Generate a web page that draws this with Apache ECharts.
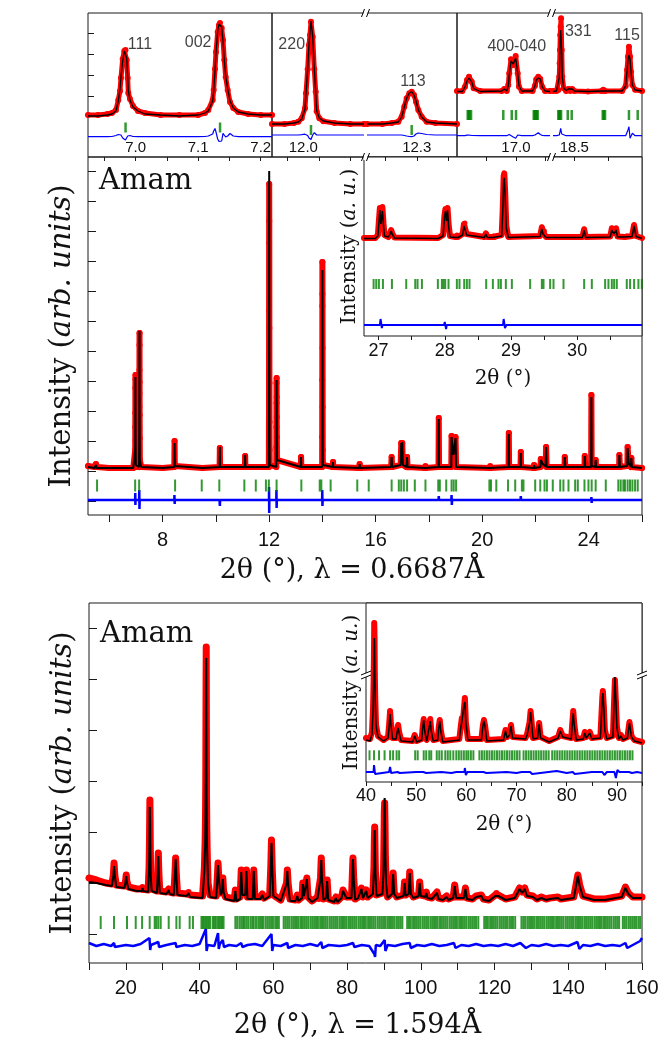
<!DOCTYPE html>
<html><head><meta charset="utf-8"><title>Rietveld plots</title>
<script src="https://cdn.jsdelivr.net/npm/echarts@6.0.0/dist/echarts.min.js"></script>
<style>html,body{margin:0;padding:0;background:#fff;}#chart{width:663px;height:1042px;}</style>
</head><body><div id="chart"></div>
<script>
// ================= DATA =================
// Strip panel A: rows [2θ, Iobs, Icalc, Idiff]
const stripA = [[6.924,42,41,20.3],[6.94,42,41,20.3],[6.955,43,42,20.3],[6.9623,44,43,20.5],[6.9687,47,46,21.5],[6.9724,57,56,22.5],[6.9751,66,68,23.5],[6.9767,79,80,22],[6.9794,98,96,19],[6.982,106,106,17.5],[6.9839,107,108,17],[6.9858,97,99,18.5],[6.9874,79,80,21],[6.9884,64,66,22.5],[6.9911,58,57,21.5],[6.9959,51,50,20.5],[7.0039,46,46,20.3],[7.0151,44,43,20.3],[7.04,42,42,20.3],[7.07,42,41,20.3],[7.1,42,42,20.3],[7.1109,44,44,20.5],[7.1162,47,46,21],[7.1232,57,56,23],[7.1248,67,66,26],[7.1269,88,86,28.5],[7.1285,105,104,25],[7.1312,125,126,18],[7.1333,132,133,15.5],[7.1349,134,135,14],[7.1376,129,130,16],[7.1397,117,116,23.7],[7.1418,97,97,22],[7.144,80,81,20],[7.1472,67,68,21],[7.1509,55,56,23.5],[7.1561,49,49,21],[7.1641,45,45,20.3],[7.18,43,43,20.3],[7.2,42,42,20.3],[7.218,42,42,20.3]];
const stripARefl = [6.984, 7.135];
const stripAHkl = [[7.007,112,'111'],[7.100,114,'002']];
// Strip panel B (broken axis)
const stripB1 = [[11.95,33,33,22],[11.97,33,33,22],[11.985,34,34,22],[11.992,35.3,35,22],[11.9975,38.7,38,22.3],[12.0027,48.7,48,22.8],[12.0043,63.7,63,22.5],[12.007,87.7,88,21.5],[12.0091,112,113,19],[12.0107,122,124,17.5],[12.0123,135.3,136,17.5],[12.015,120.3,121,22],[12.0176,87.7,88,24.3],[12.0198,65.3,65,23],[12.0214,45.7,46,22],[12.0256,38.7,39,22],[12.032,35.7,36,22],[12.05,34,34,22],[12.075,33,33,22],[12.097,33,33,22]];
const stripB2 = [[12.2205,33,33,22],[12.245,33,33,22],[12.26,34,34,22],[12.2705,35.3,35,22],[12.2759,40.3,40,22],[12.2801,50.3,50,21.5],[12.2839,58.7,59,21],[12.2881,63.7,64,20.5],[12.2919,65.3,65.5,20.3],[12.2956,62,62,21],[12.2988,55.3,56,23],[12.3025,47,47,24],[12.3079,40.3,40,23.5],[12.3159,35.3,35,22.5],[12.33,34,34,22],[12.3643,33,33,22]];
const stripB1Refl = [12.0123];
const stripB2Refl = [12.2919];
const stripB1Hkl = [[11.9815,112,'220']];
const stripB2Hkl = [[12.294,75.3,'113']];
// Strip panel C (broken axis)
const stripC1 = [[16.505,66,65.5,21.3],[16.55,66,65.5,21.3],[16.572,70.3,70,21.3],[16.589,77,76,21.8],[16.606,80.3,79,22],[16.629,75.3,75,21.5],[16.645,68.7,68.5,21.3],[16.7,66,65.5,21.3],[16.881,66,66,21.3],[16.902,68,68,21.3],[16.923,66,66,21.3],[16.936,72,71,21.5],[16.944,83.7,82,22.5],[16.959,97.7,96,23.7],[16.978,92,93,20],[16.998,101,99,18.7],[17.015,83.7,84,22],[17.026,70.3,71,21.8],[17.049,66,66,21.3],[17.14,66,66,21.3],[17.16,71.3,71,22],[17.171,77.7,77,23.5],[17.188,80.3,79,24.3],[17.205,78,78,22.5],[17.222,70,70,21.5],[17.245,66,66,21.3],[17.2865,66,65.5,21.3]];
const stripC2 = [[18.344,66,65.5,21.3],[18.37,66,66,21.3],[18.383,67,67,21.3],[18.39,80.3,80,22],[18.393,93.7,92,23],[18.395,107,105,24],[18.397,122,118,26],[18.4,130.3,127,28.7],[18.403,138.7,126,27],[18.408,107,105,23],[18.412,80.3,80,22],[18.422,68.7,69,21.3],[18.44,66,66.5,21.3],[18.456,68,68,21.3],[18.47,66,66.5,21.3],[18.485,68,68,21.3],[18.5,66,66,21.3],[18.6,65.5,65.5,21.3],[18.7,66,66,21.3],[18.712,67.3,67,21.3],[18.725,66,66,21.3],[18.85,66,66,21.3],[18.876,71,71,21.3],[18.886,87,86,23],[18.893,100.3,97,27],[18.9,110.3,102,30.3],[18.908,100.3,98,18.7],[18.915,85.3,85,20],[18.925,72,72,23.7],[18.945,67.3,67,21.3],[18.9955,66,66,21.3]];
const stripC1Refl = [16.595,16.603,16.611,16.623,16.894,16.965,17.001,17.15,17.158,17.166,17.176,17.183];
const stripC2Refl = [18.383,18.389,18.395,18.403,18.452,18.481,18.708,18.716,18.725,18.9,18.964];
const stripC1Hkl = [[17.007,110.3,'400-040']];
const stripC2Hkl = [[18.529,125.3,'331'],[18.886,121,'115']];

// Main panel 1 (λ = 0.6687 Å): rows [2θ, Iobs, Icalc]
const main1 = [[5.2,49,48],[5.45,48,47],[5.48,50,49],[5.5,51,50],[5.53,48,47],[6.0,47,47],[6.9,47,47],
[6.965,48,48],[6.972,65,66],[6.975,88,90],[6.977,102,104],[6.979,127,128],[6.981,136,138],[6.984,140,140],[6.987,75,77],[6.99,60,62],[6.995,50,50],
[7.05,48,48],[7.115,48,48],[7.122,68,68],[7.125,87,88],[7.127,108,108],[7.129,122,124],[7.131,145,150],[7.133,170,178],[7.135,182,184],[7.137,133,135],[7.139,100,102],[7.142,77,78],[7.147,55,55],[7.2,48,48],
[8.0,47,47],[8.44,48,48],[8.45,74,72],[8.46,49,49],[9.5,47,47],[10.14,48,48],[10.15,67,68],[10.16,48,48],[11.09,48,48],[11.1,59,60],[11.11,48,48],
[11.99,48,48],[11.993,85,86],[11.995,102,104],[11.997,138,140],[11.999,204,210],[12.0,272,300],[12.003,331,344],[12.006,294,296],[12.009,187,190],[12.012,132,134],[12.015,93,95],[12.018,65,66],[12.025,50,50],
[12.27,48,48],[12.273,68,69],[12.275,88,88],[12.277,112,110],[12.279,132,130],[12.281,137,135],[12.284,118,117],[12.286,98,97],[12.289,78,78],[12.295,55,55],
[13.19,48,48],[13.2,58,58],[13.21,48,48],
[13.99,48,48],[13.993,78,78],[13.996,135,136],[13.999,209,205],[14.0,253,245],[14.003,221,218],[14.006,167,168],[14.009,108,108],[14.012,65,66],[14.02,50,50],
[14.39,48,48],[14.4,53,53],[14.41,48,48],[15.39,47,47],[15.4,51,51],[15.41,47,47],
[16.58,48,48],[16.6,58,58],[16.62,48,48],[16.94,50,50],[16.96,72,72],[16.98,62,62],[17.0,72,73],[17.02,50,50],[17.16,48,48],[17.18,58,58],[17.2,48,48],
[17.86,47,47],[17.87,49,49],[17.88,47,47],[18.36,48,48],[18.37,97,96],[18.38,48,48],
[18.84,48,48],[18.85,79,78],[18.92,60,60],[19.0,78,77],[19.02,48,48],
[20.29,47,47],[20.3,49,49],[20.31,47,47],[20.99,48,48],[21.0,82,81],[21.01,48,48],[21.44,48,48],[21.45,63,62],[21.46,48,48],
[21.94,47,47],[21.95,50,50],[21.96,47,47],[22.19,48,48],[22.2,56,55],[22.3,50,50],[22.38,49,49],[22.4,68,68],[22.42,48,48],
[23.09,48,48],[23.1,58,58],[23.12,48,48],[23.84,48,48],[23.85,59,59],[23.87,48,48],
[24.09,48,48],[24.1,120,118],[24.11,49,49],[24.25,48,48],[24.26,55,55],[24.28,48,48],
[25.14,48,48],[25.15,60,60],[25.17,48,48],[25.45,49,49],[25.46,68,67],[25.5,52,52],[25.58,48,48],[25.6,57,57],[25.62,48,48],[26.0,47,47]];
const main1Diff = [[5.2,15],[6.97,15],[6.975,22],[6.98,10],[6.985,15],[7.12,15],[7.125,25],[7.132,6],[7.14,15],[8.44,15],[8.445,20],[8.455,11],[8.46,15],[10.14,15],[10.15,9],[10.16,15],[11.09,15],[11.1,17],[11.11,15],[11.995,15],[11.998,28],[12.003,2],[12.008,15],[12.27,15],[12.275,25],[12.282,7],[12.29,15],[13.99,15],[13.995,25],[14.003,9],[14.01,15],[18.36,15],[18.37,19],[18.38,15],[18.84,15],[18.85,20],[18.86,10],[18.87,15],[21.44,15],[21.45,19],[21.46,15],[24.09,15],[24.1,18],[24.11,12],[24.12,15],[26,15]];
const main1Refl = [5.54,6.97,7.12,8.47,9.47,10.13,11.07,11.5,11.88,11.99,12.28,13.21,13.9,13.96,14.31,15.31,15.74,16.6,16.87,16.96,17.06,17.18,17.47,17.87,18.35,18.41,18.65,18.85,18.93,19.02,20.27,20.33,20.53,20.97,21.24,21.49,21.55,21.99,22.18,22.34,22.43,22.65,22.93,23.05,23.24,23.49,23.59,23.84,23.99,24.11,24.26,24.64,25.11,25.2,25.3,25.36,25.46,25.55,25.64,25.74,25.84];
const main1XLabels = [8,12,16,20,24];
const main1XTicks = [6,8,10,12,14,16,18,20,22,24,26];
const main1YTicks = [14,44,74,104,134,164,194,224,254,284,314,344];

// Inset 1 (26.8–31°): rows [2θ, Iobs, Icalc]
const inset1 = [[26.78,98,97.5],[26.95,98,97.5],[26.99,101,100],[27.005,115,113],[27.02,128,126],[27.035,118,112],[27.045,120,114],[27.058,129,125],[27.075,112,110],[27.09,101,100],[27.15,99,99],[27.175,103,102],[27.19,106,105],[27.205,103,102],[27.24,98.5,98],[27.9,98,97.5],[27.975,101,100],[27.995,120,118],[28.01,127,125],[28.025,118,115],[28.042,128,126],[28.06,110,108],[28.08,100,99],[28.16,99,98.5],[28.184,101,100.5],[28.2,99,98.5],[28.27,102,101],[28.29,112,110],[28.305,113,111],[28.33,102,101],[28.6,99,98.5],[28.621,102.7,102],[28.645,99,98.5],[28.725,99,98.5],[28.736,100,99.5],[28.75,98.5,98],[28.86,101,100],[28.875,125,122],[28.89,160,155],[28.9,162.7,158],[28.912,145,140],[28.93,110,108],[28.96,99,98.5],[29.44,100,99.5],[29.467,108.7,107],[29.485,104,102],[29.506,105,104],[29.53,99,98.5],[30.08,99,98.5],[30.106,106.7,105.5],[30.13,99,98.5],[30.5,99.5,99],[30.524,107.7,106],[30.555,103,102],[30.589,107.7,106],[30.61,99.5,99],[30.72,99,99],[30.75,100,99.5],[30.83,100,99.5],[30.86,111,110],[30.89,100,99.5],[30.98,98,97.5]];
const inset1Diff = [[26.78,11],[27.02,11],[27.03,17],[27.05,8],[27.06,11],[27.18,11],[27.19,12],[27.2,11],[27.99,11],[28.0,14],[28.02,7],[28.03,11],[28.28,11],[28.29,10],[28.3,11],[28.88,11],[28.89,17],[28.91,8],[28.93,11],[29.46,11],[29.47,12.5],[29.49,11],[30.09,11],[30.1,9],[30.11,11],[30.51,11],[30.52,13],[30.54,10],[30.56,11],[30.84,11],[30.85,9],[30.87,11],[30.98,11]];
const inset1Refl = [26.925,26.965,27.005,27.066,27.202,27.418,27.554,27.589,27.655,27.896,27.957,27.982,28.007,28.057,28.183,28.223,28.294,28.334,28.374,28.626,28.727,28.812,28.848,28.923,29.014,29.29,29.467,29.492,29.592,29.643,29.794,30.106,30.222,30.423,30.473,30.524,30.559,30.599,30.75,30.8,30.861,30.926,30.977];
const inset1XLabels = [27,28,29,30];

// Main panel 2 (λ = 1.594 Å): rows [2θ, Iobs, Icalc]
const main2 = [[10,85,81],[12,83,80],[14.5,80,78],[16.2,79,77],[16.6,88,87],[16.8,100,97],[17.0,88,87],[17.4,78,76],[19.6,77,75],[19.95,83,82],[20.1,88,87],[20.25,82,81],[20.7,76,74],[23,74,72],[24.3,74,72],[24.5,76,75],[24.7,73,72],
[26.05,73,71],[26.3,96,95],[26.4,121,122],[26.48,151,156],[26.52,163,158],[26.58,140,140],[26.65,110,110],[26.75,88,87],[27.0,74,72],
[28.4,72,70],[28.65,90,88],[28.8,110,107],[28.95,90,88],[29.2,72,70],[31.0,71,69],[31.6,74,73],[31.9,71,69],[33.0,70,68],[33.3,88,87],[33.5,105,104],[33.7,88,87],[34.0,70,68],[36.5,69,67],[37.0,71,70],[37.4,68,66],
[40.8,67,65],[41.3,95,93],[41.5,121,120],[41.6,146,150],[41.68,187,190],[41.72,240,250],[41.76,284,290],[41.8,316,305],[41.84,233,235],[41.88,167,170],[41.95,136,135],[42.05,113,112],[42.3,80,79],[42.8,68,66],
[44.5,67,65],[44.8,85,84],[45.0,100,98],[45.2,85,84],[45.7,70,68],[46.1,72,71],[46.3,85,84],[46.5,72,71],[47.0,66,64],[49.4,64,62],[49.7,73,72],[50.0,64,62],
[51.0,66,64],[51.3,93,91],[51.6,70,68],[52.4,70,68],[52.7,93,92],[53.0,66,64],[54.4,66,64],[54.7,93,92],[55.0,66,64],[56.5,66,64],[57.0,69,68],[57.5,65,63],
[59.0,68,67],[59.3,95,95],[59.5,123,120],[59.7,95,94],[60.0,68,67],[62.0,63,62],[63.6,80,79],[63.8,93,92],[64.0,80,79],[64.5,64,62],[66.0,63,62],[66.5,68,67],[66.8,63,62],
[67.8,66,65],[68.0,80,79],[68.3,68,67],[68.8,70,69],[69.1,85,84],[69.4,66,65],[70.5,62,61],[72.0,66,65],[72.4,64,63],[72.8,85,84],[73.0,105,103],[73.2,85,84],[73.6,64,63],
[74.3,66,65],[74.6,83,82],[74.9,64,63],[76.5,62,61],[77.0,66,65],[77.4,62,61],[78.5,66,65],[78.9,73,72],[79.3,70,69],[79.8,66,65],
[81.2,66,65],[81.4,85,84],[81.6,105,104],[81.8,85,84],[82.2,64,63],[83.0,66,65],[83.9,75,74],[84.3,66,65],[85.2,73,72],[85.6,66,65],
[87.0,70,69],[87.3,96,95],[87.4,123,125],[87.5,136,133],[87.6,110,112],[87.7,90,90],[88.0,68,67],
[89.6,70,69],[89.9,93,92],[90.0,121,122],[90.1,151,160],[90.2,160,165],[90.3,138,140],[90.4,106,106],[90.6,80,79],[91.0,66,65],
[92.2,70,69],[92.5,90,89],[92.8,70,69],[93.5,66,65],[95.3,68,67],[95.6,81,80],[95.9,68,67],[96.7,70,69],[97.0,91,90],[97.3,70,69],[98.0,66,65],[99.4,68,67],[99.7,81,80],[100.0,68,67],
[101.2,67,66],[101.5,71,70],[101.8,66,65],[103.0,65,64],[104.4,71,70],[104.8,65,64],[106.0,64,63],[107.0,67,66],[107.5,64,63],[108.8,66,65],[109.2,78,77],[109.6,66,65],
[111.7,66,65],[112.1,75,74],[112.5,65,64],[114.0,64,63],[115.0,67,66],[116.4,68,67],[117.0,64,63],[118.5,63,62],[120.2,68,67],[120.5,70,69],[121.0,68,67],[122.0,66,65],[123.0,64,63],
[125.5,66,65],[126.8,75,74],[127.5,71,70],[128.2,75,74],[128.8,68,67],[130.4,67,66],[131.5,64,63],[132.7,66,65],[134.0,64,63],[135.0,65,64],[137.2,66,65],[138.0,64,63],
[141.5,66,65],[142.2,80,79],[142.6,88,87],[143.1,78,77],[144.0,67,66],[147.0,64,63],[150.0,64,63],[154.5,67,66],[155.5,76,75],[156.3,70,69],[157.5,66,65],[160,66,65]];
const main2Diff = [[10,20],[12,17],[14,19],[16,17],[16.8,20],[17,16],[20,18],[22,17],[24,19],[26.4,25],[26.6,13],[26.8,18],[28.8,21],[29,16],[31,18],[33.5,20],[33.7,16],[36,18],[38,17],[40,19],[41.7,34],[41.9,12],[42.2,18],[44,17],[45,30],[45.2,14],[45.5,19],[46.3,23],[46.6,16],[48,18],[50,17],[51.3,20],[51.6,16],[53,18],[55,19],[57,17],[59.5,29],[59.7,12],[60,18],[62,17],[63.8,20],[64,15],[66,18],[68,17],[70,19],[72,17],[73,21],[73.3,15],[75,18],[78,17],[80,18],[81.6,20],[82,16],[84,18],[86,17],[87.4,9],[87.6,6],[87.8,18],[89,17],[90.2,23],[90.4,12],[91,18],[93,17],[95,19],[97,20],[97.3,15],[99,18],[101,17],[103,19],[105,17],[107,18],[109,20],[109.4,15],[111,18],[113,17],[115,19],[117,17],[119,18],[121,17],[123,19],[125,17],[127,20],[128.5,15],[130,18],[132,17],[134,19],[136,17],[138,18],[140,17],[142.5,21],[143,14],[144,18],[146,17],[148,19],[150,17],[152,18],[154,17],[155.5,20],[156,15],[158,19],[159.5,22],[160,25]];
const main2Refl = [13.17,16.78,20.3,22.67,24.4,26.46,27.82,28.27,28.81,29.45,31.62,33.7,34.6,37.3,38.2,
40.5,40.9,41.3,41.7,42.1,42.5,42.9,43.6,44.0,44.4,44.9,45.3,45.7,46.1,46.5,
49.7,50.2,50.8,51.3,51.8,52.2,52.7,53.2,53.8,54.3,54.7,55.3,55.9,56.4,56.9,57.3,57.9,58.4,58.9,59.4,59.9,60.5,61.0,61.5,
62.8,63.3,63.8,64.3,64.9,65.4,65.9,66.4,66.9,67.5,68.0,68.5,69.0,69.5,70.1,70.6,71.1,71.6,72.1,72.7,73.2,73.7,74.2,74.7,75.3,75.8,76.3,76.8,77.3,77.9,78.4,78.9,79.4,79.9,80.5,81.0,81.5,82.0,82.5,83.1,83.6,84.1,84.6,85.1,85.7,86.2,86.7,87.2,87.7,88.3,88.8,89.3,89.8,90.3,90.9,91.4,91.9,92.4,92.9,93.5,94.0,94.5,95.0,
96.3,96.8,97.3,97.9,98.4,98.9,99.4,99.9,100.5,101.0,101.5,102.0,102.6,103.1,103.6,104.1,104.6,105.2,105.7,106.2,106.7,107.2,107.8,108.3,108.8,109.3,109.8,110.4,110.9,111.4,111.9,112.4,113.0,113.5,114.0,114.5,115.0,115.6,
117.2,117.7,118.2,118.8,119.3,119.8,120.3,120.8,121.4,121.9,122.4,122.9,123.4,124.0,124.5,125.0,125.6,
127.3,127.8,128.3,128.9,129.4,129.9,130.4,130.9,131.5,132.0,132.5,133.0,133.5,134.1,134.6,135.1,135.6,136.1,136.7,137.2,137.7,138.2,138.7,139.3,139.8,140.3,140.8,141.3,141.9,142.4,142.9,143.4,143.9,144.5,145.0,145.5,146.0,146.5,147.1,147.6,148.1,148.6,149.1,149.7,150.2,150.7,151.2,151.7,152.3,152.8,153.3,153.8,
154.8,155.3,155.8,156.4,156.9,157.4,157.9,158.4,159.0,159.5];
const main2XLabels = [20,40,60,80,100,120,140,160];
const main2XTicks = [10,20,30,40,50,60,70,80,90,100,110,120,130,140,150,160];
const main2YTicks = [29,80,131,182,233,284,335];

// Inset 2 (40–95°): rows [2θ, Iobs, Icalc]
const inset2 = [[40,44,42],[40.8,43,41],[41.2,50,48],[41.4,73,70],[41.5,97,95],[41.58,124,128],[41.64,159,144],[41.7,145,140],[41.76,107,108],[41.85,82,80],[42.0,57,56],[42.4,46,45],[43.5,42,41],
[44.4,45,44],[44.65,60,58],[44.8,71,68],[44.95,60,58],[45.3,44,43],[46.0,44,43],[46.2,52,50],[46.4,57,54],[46.6,50,49],[47.0,42,41],[49.3,41,40],[49.7,47,46],[50.1,41,40],
[51.1,43,42],[51.3,55,54],[51.5,63,62],[51.7,52,51],[52.1,42,41],[52.4,44,43],[52.6,56,55],[52.8,63,61],[53.0,52,51],[53.4,42,41],[54.3,43,42],[54.5,55,54],[54.7,62,61],[54.9,52,51],[55.3,41,40],
[58.6,43,42],[58.9,56,55],[59.1,64,60],[59.3,60,62],[59.5,72,76],[59.7,84,80],[59.9,60,60],[60.3,43,42],[63.0,43,42],[63.3,57,56],[63.5,62,61],[63.7,57,56],[64.1,42,41],
[67.4,43,42],[67.8,52,51],[68.1,45,44],[68.6,48,47],[68.9,57,56],[69.2,45,44],[71.8,44,43],[72.1,48,47],[72.4,47,46],[72.6,60,59],[72.8,71,70],[73.0,60,59],[73.3,44,43],
[74.2,45,44],[74.5,59,58],[74.8,45,44],[76.5,41,40],[78.3,45,44],[78.7,52,51],[79.2,46,45],[80.9,44,43],[81.1,58,57],[81.3,71,69],[81.5,58,57],[81.9,43,42],
[83.3,44,43],[83.6,50,49],[83.9,45,44],[84.6,50,49],[85.0,44,43],[86.7,45,44],[86.9,65,64],[87.1,85,83],[87.2,91,89],[87.4,75,74],[87.6,52,51],[88.0,44,43],
[89.2,46,45],[89.4,75,74],[89.6,102,105],[89.8,80,82],[90.0,55,54],[90.4,44,43],[90.8,47,46],[91.2,43,42],[92.1,45,44],[92.5,60,59],[92.9,46,45],[93.5,42,41],[95,40,39]];
const inset2Diff = [[40,10],[41.5,10],[41.6,17],[41.8,8],[42,10],[44.6,10],[44.8,15],[45,9],[45.3,10],[46.3,10],[46.4,12],[46.7,9],[47,10],[50,10],[51.4,10],[51.5,11],[52,9],[52.3,10],[55,10],[57,9],[58,10],[59.6,10],[59.7,14],[59.9,7],[60.2,10],[63.4,10],[63.5,11],[64,9],[64.3,10],[68,10],[70,9],[71,10],[72.7,10],[72.8,12],[73.1,8],[73.4,10],[78,11],[79,10],[80,9],[81.2,10],[81.3,12],[81.6,8],[81.9,10],[85,10],[87.1,10],[87.2,12],[87.5,7],[88,10],[89.5,10],[89.6,8],[89.8,4],[90.1,12],[90.5,10],[92.4,10],[92.5,11],[93,9],[94,10],[95,9]];
const inset2Refl = [40.7,41.6,42.6,43.7,44.8,45.4,46.1,46.6,
49.8,50.3,51.5,52.0,52.6,53.0,54.1,54.6,55.1,55.8,56.3,56.8,57.4,58.0,58.5,59.0,59.5,60.0,60.4,60.9,61.4,
62.6,63.1,63.6,64.1,64.6,65.1,65.6,66.1,66.6,67.1,67.6,68.1,68.6,69.1,69.6,70.1,70.6,
71.4,71.9,72.4,72.9,73.4,73.9,74.4,74.9,75.4,75.9,76.4,
77.1,77.6,78.1,78.6,79.1,79.6,80.1,80.6,81.1,81.6,82.1,82.6,83.1,83.6,84.1,84.6,85.1,85.6,86.1,86.6,87.1,87.6,88.1,88.6,89.1,89.6,90.1,90.6,91.1,91.6,92.1,92.6,93.1];
const inset2XLabels = [40,50,60,70,80,90];
const inset2XTicks = [40,45,50,55,60,65,70,75,80,85,90,95];

// ================= STYLE / LAYOUT =================
const SANS = "'Liberation Sans', Arial, sans-serif";
const SERIF = "'DejaVu Serif', serif";
const RED = '#ff0000', BLUE = '#0000ff', GREEN = '#008000', INK = '#111';
const G = [
  {left:88, top:13, width:184, height:144, show:true},   // 0 strip A
  {left:272, top:13, width:185, height:144, show:true},  // 1 frame B
  {left:272, top:13, width:92, height:144},              // 2 B1
  {left:367, top:13, width:90, height:144},              // 3 B2
  {left:457, top:13, width:185, height:144, show:true},  // 4 frame C
  {left:457, top:13, width:93, height:144},              // 5 C1
  {left:553, top:13, width:89, height:144},              // 6 C2
  {left:88, top:157, width:554, height:358, show:true},  // 7 main 1
  {left:364, top:157, width:278, height:179, show:true, backgroundColor:'#fff'}, // 8 inset 1
  {left:89, top:603, width:553, height:360, show:true},  // 9 main 2
  {left:366, top:603, width:276, height:179, show:true, backgroundColor:'#fff'}  // 10 inset 2
];
G.forEach(g => { if (g.show) { g.borderColor = '#1a1a1a'; g.borderWidth = 1; } });

function xAx(gi, min, max, o) {
  return Object.assign({type:'value', gridIndex:gi, min:min, max:max, axisLine:{show:false},
    splitLine:{show:false}, axisTick:{show:false}, axisLabel:{show:false}}, o || {});
}
function yAx(gi, max, o) {
  return Object.assign({type:'value', gridIndex:gi, min:0, max:max, axisLine:{show:false},
    splitLine:{show:false}, axisTick:{show:false}, axisLabel:{show:false}}, o || {});
}
const tick = (vals, len, inside) => ({show:true, customValues:vals, length:len, inside:!!inside, lineStyle:{color:'#1a1a1a', width:1}});
const lab = (vals, size, margin, inside, fmt) => ({show:true, customValues:vals, fontFamily:SANS, fontSize:size, color:INK, margin:margin, inside:!!inside, formatter: fmt || (v => String(v))});
const f1 = v => Number(v).toFixed(1);
const yName = (txt, size, gap) => ({name:txt, nameLocation:'middle', nameRotate:90, nameGap:gap,
  nameTextStyle:{fontFamily:SERIF, fontSize:size, color:INK, rich:{i:{fontFamily:SERIF, fontSize:size, fontStyle:'italic', color:INK}}}});
const xName = (txt, size, gap, padR) => ({name:txt, nameLocation:'middle', nameGap:gap,
  nameTextStyle:{fontFamily:SERIF, fontSize:size, color:INK, padding:[0, padR || 0, 0, 0]}});

const xAxes = [
  xAx(0, 6.924, 7.218, {axisTick:tick([6.95,7.0,7.05,7.1,7.15,7.2],4), axisLabel:lab([7.0,7.1,7.2],15,2,true,f1)}),
  xAx(1, 0, 1),
  xAx(2, 11.95, 12.097, {axisTick:tick([11.975,12.025,12.075],4), axisLabel:lab([12.0],15,2,true,f1)}),
  xAx(3, 12.2205, 12.3643, {axisTick:tick([12.25,12.3,12.35],4), axisLabel:lab([12.3],15,2,true,f1)}),
  xAx(4, 0, 1),
  xAx(5, 16.505, 17.2865, {axisTick:tick([16.75,17.0,17.25],4), axisLabel:lab([17.0],15,2,true,f1)}),
  xAx(6, 18.344, 18.9955, {axisTick:tick([18.5,18.75],4), axisLabel:lab([18.5],15,2,true,f1)}),
  xAx(7, 5.2, 26, Object.assign({axisTick:tick(main1XTicks,7), axisLabel:lab(main1XLabels,20,15)}, xName('2θ (°), λ = 0.6687Å', 27, 42, 26))),
  xAx(8, 26.78, 30.98, Object.assign({axisTick:tick([27,27.5,28,28.5,29,29.5,30,30.5],4), axisLabel:lab(inset1XLabels,18,6)}, xName('2θ (°)', 20, 33))),
  xAx(9, 10, 160, Object.assign({axisTick:tick(main2XTicks,7), axisLabel:lab(main2XLabels,20,15)}, xName('2θ (°), λ = 1.594Å', 27, 49, 16))),
  xAx(10, 40, 95, Object.assign({axisTick:tick(inset2XTicks,4), axisLabel:lab(inset2XLabels,18,5)}, xName('2θ (°)', 20, 33)))
];
const yAxes = [
  yAx(0, 144, {axisTick:tick([61,82,103,124],6,true)}),
  yAx(1, 1), yAx(2, 144), yAx(3, 144), yAx(4, 1), yAx(5, 144), yAx(6, 144),
  yAx(7, 358, Object.assign({axisTick:tick(main1YTicks,8,true)}, yName('Intensity ({i|arb. units})', 29, 11))),
  yAx(8, 179, yName('Intensity ({i|a. u.})', 20, 4)),
  yAx(9, 360, Object.assign({axisTick:tick(main2YTicks,8,true)}, yName('Intensity ({i|arb. units})', 29, 11))),
  yAx(10, 179, yName('Intensity ({i|a. u.})', 20, 4))
];

const series = [];
function addProfile(gi, rows, ow, ss, cw) {
  series.push({type:'line', xAxisIndex:gi, yAxisIndex:gi, data:rows.map(r => [r[0], r[1]]),
    lineStyle:{color:RED, width:ow, cap:'round', join:'round'}, symbol:'circle', symbolSize:ss,
    showAllSymbol:true, itemStyle:{color:RED, borderWidth:0}, z:2, silent:true});
  series.push({type:'line', xAxisIndex:gi, yAxisIndex:gi, data:rows.map(r => [r[0], r[2]]),
    lineStyle:{color:'#000', width:cw}, symbol:'none', z:4, silent:true});
}
function addDiff(gi, pts, w) {
  series.push({type:'line', xAxisIndex:gi, yAxisIndex:gi, data:pts, lineStyle:{color:BLUE, width:w},
    symbol:'none', z:3, silent:true});
}
function addRefl(gi, xs, level, w, h) {
  series.push({type:'scatter', xAxisIndex:gi, yAxisIndex:gi, data:xs.map(x => [x, level]),
    symbol:'rect', symbolSize:[w, h], itemStyle:{color:GREEN}, z:3, silent:true});
}
function addHkl(gi, list) {
  series.push({type:'scatter', xAxisIndex:gi, yAxisIndex:gi, symbolSize:1, z:6, silent:true,
    itemStyle:{color:'rgba(0,0,0,0)'},
    data:list.map(h => ({value:[h[0], h[1]], name:h[2]})),
    label:{show:true, position:'inside', formatter:'{b}', fontFamily:SANS, fontSize:16, color:INK}});
}
// strip panels
[[0, stripA, stripARefl, 29.5], [2, stripB1, stripB1Refl, 27], [3, stripB2, stripB2Refl, 27],
 [5, stripC1, stripC1Refl, 42], [6, stripC2, stripC2Refl, 42]].forEach(p => {
  addProfile(p[0], p[1], 5, 6, 1.3);
  addDiff(p[0], p[1].map(r => [r[0], r[3]]), 1.2);
  addRefl(p[0], p[2], p[3], 2.5, 10);
});
addHkl(0, stripAHkl); addHkl(2, stripB1Hkl); addHkl(3, stripB2Hkl); addHkl(5, stripC1Hkl); addHkl(6, stripC2Hkl);
// main 1 + inset 1
addProfile(7, main1, 6, 6, 2); addDiff(7, main1Diff, 2.5); addRefl(7, main1Refl, 29.5, 2, 12);
addProfile(8, inset1, 6, 5, 1.5); addDiff(8, inset1Diff, 2); addRefl(8, inset1Refl, 52, 2, 10);
// main 2 + inset 2
addProfile(9, main2, 7, 6, 2); addDiff(9, main2Diff, 2.5); addRefl(9, main2Refl, 40.5, 2, 13);
addProfile(10, inset2, 6, 5, 1.5); addDiff(10, inset2Diff, 2); addRefl(10, inset2Refl, 26.7, 2, 10);

// decorations: axis-break marks and phase labels
function hBreak(cx, cy) {
  return [
    {type:'rect', shape:{x:cx-2, y:cy-3, width:4, height:6}, style:{fill:'#fff'}, z:20},
    {type:'line', shape:{x1:cx-4, y1:cy+4, x2:cx-1, y2:cy-4}, style:{stroke:'#000', lineWidth:1}, z:21},
    {type:'line', shape:{x1:cx+1, y1:cy+4, x2:cx+4, y2:cy-4}, style:{stroke:'#000', lineWidth:1}, z:21}
  ];
}
function vBreak(cx, cy) {
  return [
    {type:'rect', shape:{x:cx-3, y:cy-2, width:6, height:4}, style:{fill:'#fff'}, z:20},
    {type:'line', shape:{x1:cx-5, y1:cy, x2:cx+5, y2:cy-4}, style:{stroke:'#000', lineWidth:1}, z:21},
    {type:'line', shape:{x1:cx-5, y1:cy+4, x2:cx+5, y2:cy}, style:{stroke:'#000', lineWidth:1}, z:21}
  ];
}
const gB = (G[2].left + G[2].width + G[3].left) / 2;
const gC = (G[5].left + G[5].width + G[6].left) / 2;
const i2Break = G[10].top + G[10].height - 107;
const graphic = [].concat(
  hBreak(gB, G[1].top), hBreak(gB, G[1].top + G[1].height),
  hBreak(gC, G[4].top), hBreak(gC, G[4].top + G[4].height),
  vBreak(G[10].left, i2Break), vBreak(G[10].left + G[10].width, i2Break),
  [{type:'text', left:G[7].left + 11, top:G[7].top + 10, z:22, style:{text:'Amam', font:'29px ' + SERIF, fill:INK}},
   {type:'text', left:G[9].left + 11, top:G[9].top + 17, z:22, style:{text:'Amam', font:'29px ' + SERIF, fill:INK}}]
);

const chart = echarts.init(document.getElementById('chart'), null, {renderer:'canvas'});
chart.setOption({
  animation:false, backgroundColor:'#fff',
  grid:G, xAxis:xAxes, yAxis:yAxes, series:series, graphic:graphic
});
</script></body></html>
